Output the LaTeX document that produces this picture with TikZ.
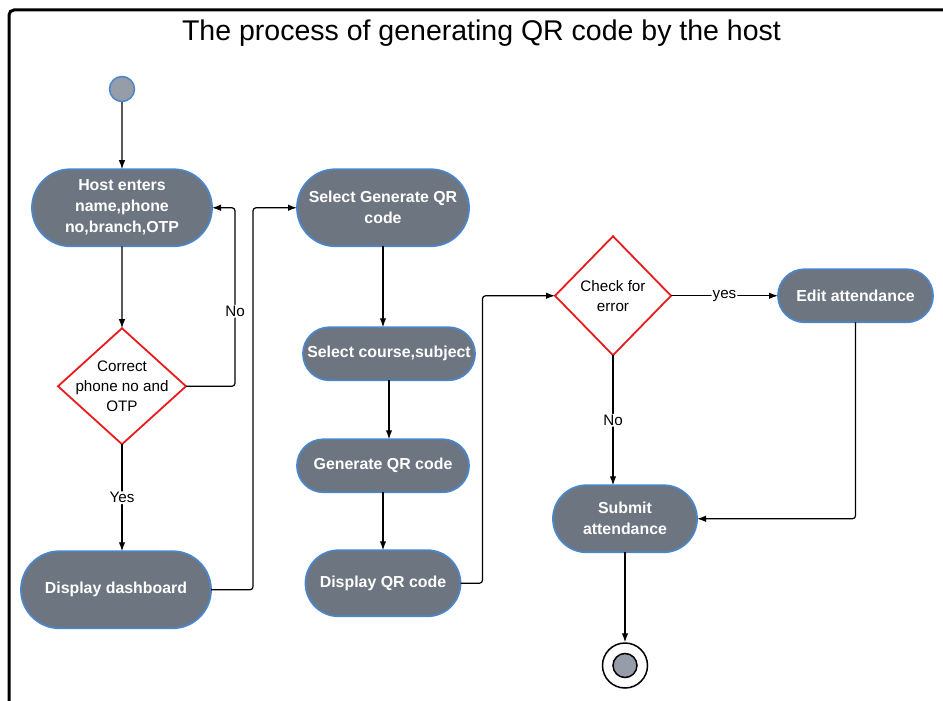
\documentclass[tikz,border=0pt]{standalone}
\usepackage{fontspec}
\setmainfont{Liberation Sans}
\usetikzlibrary{arrows.meta,positioning,shapes.geometric,shapes.misc}
\definecolor{actfill}{RGB}{108,117,128}
\definecolor{actedge}{RGB}{74,134,200}
\definecolor{decedge}{RGB}{232,28,28}
\definecolor{dotfill}{RGB}{150,156,168}
\tikzset{
  activity/.style={rounded rectangle, draw=actedge, fill=actfill, line width=1.8pt, align=center, inner sep=2pt, outer sep=0pt, text=white, font=\fontsize{15.9}{21}\selectfont\bfseries},
  decision/.style={diamond, draw=decedge, fill=white, line width=1.8pt, inner sep=0pt, outer sep=0pt},
  dectext/.style={align=center, font=\fontsize{15.2}{20}\selectfont},
  line/.style={-{Latex[length=9pt,width=6.5pt]}, line width=1.2pt, rounded corners=3pt},
  tag/.style={fill=white, inner sep=1pt, font=\fontsize{15.2}{18}\selectfont},
  startdot/.style={circle, draw=actedge, fill=dotfill, line width=1.5pt, minimum size=25pt, inner sep=0pt},
  stopring/.style={circle, draw, fill=white, line width=1.5pt, minimum size=45pt, inner sep=0pt},
  stopdot/.style={circle, draw, fill=dotfill, line width=1.5pt, minimum size=24pt, inner sep=0pt},
  frame/.style={line width=3pt, rounded corners=5pt}
}
\begin{document}
\begin{tikzpicture}[x=1pt, y=-1pt]
  \useasboundingbox (0,0) rectangle (943,701);
  \draw[frame] (9,705) -- (9,10) -- (950,10);
  \node[font=\fontsize{28.5}{34}\selectfont, anchor=base] (title) at (481.5,41) {The process of generating QR code by the host};

  \node[startdot] (start) at (122,89) {};
  \node[activity, minimum width=184pt, minimum height=77pt, below=67pt of start] (host) {Host enters\\name,phone\\no,branch,OTP};
  \node[decision, minimum width=128pt, minimum height=116pt, below=82pt of host,
        label={[dectext]center:Correct\\phone no and\\OTP}] (login) {};
  \node[activity, minimum width=194pt, minimum height=77pt, below=107pt of login, xshift=-6pt] (dash) {Display dashboard};

  \node[activity, minimum width=176pt, minimum height=77pt, right=85pt of host] (selgen) {Select Generate QR\\code};
  \node[activity, minimum width=176pt, minimum height=53pt, below=81pt of selgen, xshift=6pt] (course) {Select course,subject};
  \node[activity, minimum width=176pt, minimum height=53pt, below=59pt of course, xshift=-6pt] (gen) {Generate QR code};
  \node[activity, minimum width=159pt, minimum height=66pt, below=58pt of gen] (show) {Display QR code};

  \node[decision, minimum width=116pt, minimum height=119pt, right=86pt of selgen, yshift=-88pt,
        label={[dectext]center:Check for\\error}] (check) {};
  \node[activity, minimum width=159pt, minimum height=53pt, right=107pt of check] (edit) {Edit attendance};
  \node[activity, minimum width=148pt, minimum height=67pt, below=130pt of check, xshift=12pt] (submit) {Submit\\attendance};
  \node[stopring, below=90pt of submit] (stop) {};
  \node[stopdot] (stopcore) at (stop) {};

  \draw[line] (start) -- (host);
  \draw[line] (host) -- (login);
  \draw[line] (login.east) -- ++(49pt,0) |- node[tag, pos=0.21] (nologin) {No} (host.east);
  \draw[line] (login.south) -- node[tag] (yeslogin) {Yes} (login.south |- dash.north);
  \draw[line] (dash.east) -- ++(42pt,0) |- (selgen.west);
  \draw[line] (selgen.south) -- (selgen.south |- course.north);
  \draw[line] (course.south) -- (course.south |- gen.north);
  \draw[line] (gen.south) -- (gen.south |- show.north);
  \draw[line] (show.east) -- ++(22pt,0) |- (check.west);
  \draw[line] (check.east) -- node[tag] (yescheck) {yes} (edit.west);
  \draw[line] (check.south) -- node[tag] (nocheck) {No} (check.south |- submit.north);
  \draw[line] (edit.south) |- (submit.east);
  \draw[line] (submit.south) -- (stop.north);
\end{tikzpicture}
\end{document}
